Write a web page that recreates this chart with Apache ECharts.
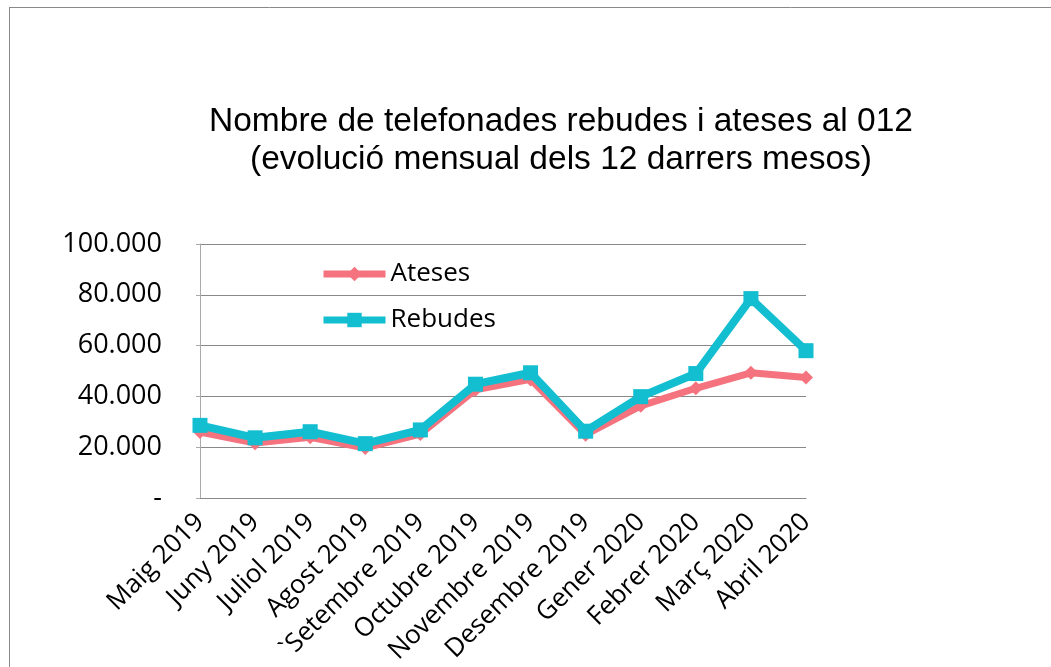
<!DOCTYPE html>
<html>
<head>
<meta charset="utf-8">
<script src="https://cdn.jsdelivr.net/npm/echarts@6/dist/echarts.min.js"></script>
<style>
  html, body { margin: 0; padding: 0; background: #fff; }
  #main { width: 1051px; height: 667px; }
</style>
</head>
<body>
<div id="main"></div>
<script>
// dades
var mesos = ['Maig 2019', 'Juny 2019', 'Juliol 2019', 'Agost 2019', '`Setembre 2019', 'Octubre 2019',
  'Novembre 2019', 'Desembre 2019', 'Gener 2020', 'Febrer 2020', 'Març 2020', 'Abril 2020'];
var ateses = [26000, 21600, 23900, 19700, 25200, 42600, 46700, 24900, 36300, 43200, 49300, 47400];
var rebudes = [28600, 23700, 26100, 21400, 26800, 44800, 49300, 26300, 39900, 49000, 78500, 58000];
var yTicks = ['-', '20.000', '40.000', '60.000', '80.000', '100.000'];

var myChart = echarts.init(document.getElementById('main'));
var option = {
  backgroundColor: '#ffffff',
  animation: false,
  title: {
    text: 'Nombre de telefonades rebudes i ateses al 012\n(evolució mensual dels 12 darrers mesos)',
    left: 556,
    top: 98,
    textAlign: 'center',
    textStyle: {
      fontFamily: 'Liberation Sans',
      fontSize: 33.5,
      fontWeight: 'normal',
      color: '#000',
      lineHeight: 38
    }
  },
  legend: {
    orient: 'vertical',
    left: 315,
    top: 256,
    itemWidth: 62,
    itemHeight: 18,
    itemGap: 20,
    lineStyle: { width: 7 },
    textStyle: { fontFamily: 'Open Sans', fontSize: 26, color: '#000' },
    data: ['Ateses', 'Rebudes']
  },
  grid: { left: 200, right: 245, top: 244, bottom: 169, containLabel: false },
  xAxis: {
    type: 'category',
    boundaryGap: false,
    data: mesos,
    axisLine: { lineStyle: { color: '#888', width: 1 } },
    axisTick: { show: false },
    axisLabel: {
      rotate: 45,
      interval: 0,
      margin: 20,
      fontFamily: 'Open Sans',
      fontSize: 26,
      color: '#000'
    }
  },
  yAxis: {
    type: 'value',
    min: 0,
    max: 100000,
    interval: 20000,
    axisLine: { show: true, lineStyle: { color: '#aaa', width: 1 } },
    axisTick: { show: true, length: 4, lineStyle: { color: '#aaa' } },
    splitLine: { lineStyle: { color: '#888', width: 1 } },
    axisLabel: {
      margin: 38,
      fontFamily: 'Open Sans',
      fontSize: 27,
      color: '#000',
      formatter: function (v) { return yTicks[Math.round(v / 20000)]; }
    }
  },
  series: [
    {
      name: 'Ateses',
      type: 'line',
      data: ateses,
      color: '#f4737e',
      symbol: 'diamond',
      symbolSize: 14,
      lineStyle: { width: 7 },
      z: 2
    },
    {
      name: 'Rebudes',
      type: 'line',
      data: rebudes,
      color: '#12bed0',
      symbol: 'rect',
      symbolSize: 15,
      lineStyle: { width: 8 },
      z: 3
    }
  ],
  graphic: [
    { type: 'line', shape: { x1: 9, y1: 7.5, x2: 1051, y2: 7.5 }, style: { stroke: '#888', lineWidth: 1 } },
    { type: 'line', shape: { x1: 9.5, y1: 7, x2: 9.5, y2: 667 }, style: { stroke: '#888', lineWidth: 1 } }
  ]
};
myChart.setOption(option);
</script>
</body>
</html>
